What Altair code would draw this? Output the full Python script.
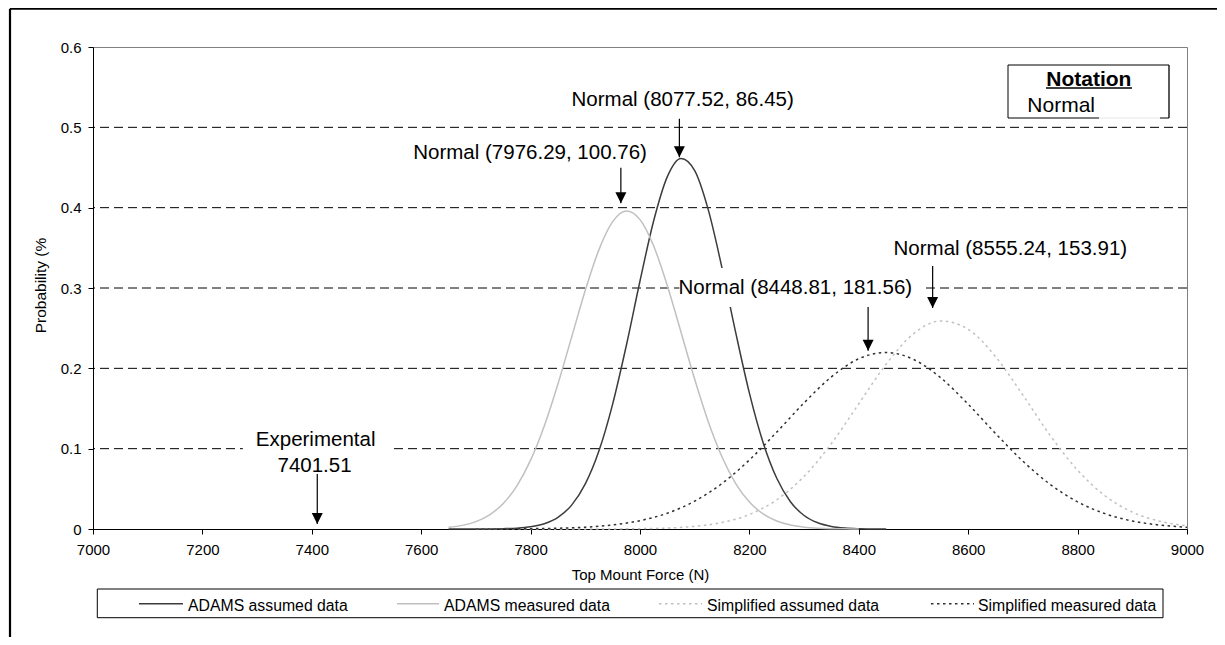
import altair as alt
import pandas as pd

# ---------------- data ----------------
adams_assumed_x = [7650, 7675, 7700, 7725, 7750, 7775, 7800, 7825, 7850, 7875, 7900,
                   7925, 7950, 7975, 8000, 8025, 8050, 8075, 8100, 8125, 8150, 8175,
                   8200, 8225, 8250, 8275, 8300, 8325, 8350, 8375, 8400, 8425, 8450]
adams_assumed_y = [0.0000, 0.0000, 0.0000, 0.0001, 0.0004, 0.0010, 0.0027, 0.0065, 0.0145,
                   0.0297, 0.0561, 0.0973, 0.1555, 0.2284, 0.3087, 0.3837, 0.4387, 0.4613,
                   0.4462, 0.3969, 0.3247, 0.2444, 0.1691, 0.1077, 0.0631, 0.0340, 0.0168,
                   0.0077, 0.0032, 0.0012, 0.0004, 0.0001, 0.0000]

adams_measured_x = [7650, 7675, 7700, 7725, 7750, 7775, 7800, 7825, 7850, 7875, 7900,
                    7925, 7950, 7975, 8000, 8025, 8050, 8075, 8100, 8125, 8150, 8175,
                    8200, 8225, 8250, 8275, 8300, 8325, 8350, 8375, 8400]
adams_measured_y = [0.0021, 0.0045, 0.0092, 0.0177, 0.0318, 0.0538, 0.0857, 0.1282, 0.1805,
                    0.2388, 0.2972, 0.3478, 0.3826, 0.3959, 0.3851, 0.3522, 0.3029, 0.2450,
                    0.1863, 0.1332, 0.0896, 0.0566, 0.0337, 0.0188, 0.0099, 0.0049, 0.0023,
                    0.0010, 0.0004, 0.0002, 0.0001]

simplified_x = [7700, 7750, 7800, 7850, 7900, 7950, 8000, 8050, 8100, 8150, 8200, 8250,
                8300, 8350, 8400, 8450, 8500, 8550, 8600, 8650, 8700, 8750, 8800, 8850,
                8900, 8950, 9000]
simplified_assumed_y = [0.0000, 0.0000, 0.0000, 0.0000, 0.0000, 0.0001, 0.0004, 0.0012,
                        0.0033, 0.0081, 0.0181, 0.0363, 0.0655, 0.1065, 0.1559, 0.2052,
                        0.2430, 0.2590, 0.2485, 0.2145, 0.1666, 0.1164, 0.0732, 0.0414,
                        0.0211, 0.0097, 0.0040]
simplified_measured_y = [0.0000, 0.0001, 0.0004, 0.0010, 0.0023, 0.0050, 0.0104, 0.0197,
                         0.0347, 0.0567, 0.0859, 0.1206, 0.1570, 0.1894, 0.2119, 0.2197,
                         0.2111, 0.1881, 0.1553, 0.1189, 0.0844, 0.0555, 0.0338, 0.0191,
                         0.0100, 0.0049, 0.0022]

series_names = ["ADAMS assumed data", "ADAMS measured data",
                "Simplified assumed data", "Simplified measured data"]

x_ticks = [7000, 7200, 7400, 7600, 7800, 8000, 8200, 8400, 8600, 8800, 9000]
y_ticks = [0, 0.1, 0.2, 0.3, 0.4, 0.5, 0.6]
grid_values = [0.1, 0.2, 0.3, 0.4, 0.5]

# annotations (text, anchor position in data units)
ann_text = ["Normal (8077.52, 86.45)", "Normal (7976.29, 100.76)",
            "Normal (8555.24, 153.91)", "Normal (8448.81, 181.56)",
            "Experimental", "7401.51"]
ann_x = [8078, 7799, 8677, 8284, 7407, 7405]
ann_y = [0.5268, 0.4604, 0.3412, 0.2927, 0.1034, 0.0710]

arrow_x = [8072, 7965, 8535, 8417, 7410]
arrow_top = [0.5106, 0.4496, 0.3275, 0.2765, 0.0685]
arrow_tip = [0.4629, 0.4056, 0.2752, 0.2220, 0.0062]

# white text boxes that mask lines behind two labels
box_x1 = [8072, 7274]
box_x2 = [8515, 7547]
box_y1 = [0.2765, 0.0660]
box_y2 = [0.3250, 0.1283]

# ---------------- styling ----------------
FONT = "Liberation Sans"
DARK = "#3c3c3c"
DARKDOT = "#303030"
LIGHT = "#c0c0c0"
DOT = [2.5, 3.5]

xscale = alt.Scale(domain=[7000, 9000], nice=False, zero=False)
yscale = alt.Scale(domain=[0, 0.6], nice=False, zero=True)

x_axis = alt.Axis(values=x_ticks, title="Top Mount Force (N)", grid=False, format="d",
                  tickSize=5, labelPadding=8, labelFlush=False, labelOverlap=False,
                  labelFontSize=15, labelFont=FONT, labelColor="black",
                  tickColor="black", domainColor="black",
                  titleFont=FONT, titleFontSize=15, titleFontWeight="normal",
                  titleColor="black", titleY=50, titleBaseline="alphabetic")
y_axis = alt.Axis(values=y_ticks, title="Probability (%", grid=False,
                  labelExpr="datum.value == 0 ? '0' : format(datum.value, '.1f')",
                  tickSize=5, labelPadding=7, labelFontSize=15, labelFont=FONT,
                  labelColor="black", tickColor="black", domainColor="black",
                  titleFont=FONT, titleFontSize=15.5, titleFontWeight="normal",
                  titleColor="black", titleX=-47.5, titleY=238, titleAngle=270,
                  titleBaseline="alphabetic", titleAlign="center")

XF = alt.X("force:Q", scale=xscale, axis=x_axis)
YF = alt.Y("prob:Q", scale=yscale, axis=y_axis)

one = pd.DataFrame({"k": [0]})


def curve(xs, ys, color, dash=None):
    df = pd.DataFrame({"force": xs, "prob": ys})
    kw = dict(color=color, strokeWidth=1.5, interpolate="monotone")
    if dash:
        kw["strokeDash"] = dash
    return alt.Chart(df).mark_line(**kw).encode(x=XF, y=YF)


def prule(x1, y1, x2, y2, color="black", width=1.0, dash=None):
    kw = dict(color=color, strokeWidth=width)
    if dash:
        kw["strokeDash"] = dash
    return alt.Chart(one).mark_rule(**kw).encode(
        x=alt.value(x1), y=alt.value(y1), x2=alt.value(x2), y2=alt.value(y2))


def ptext(x, y, text, size, align="left", weight="normal"):
    return alt.Chart(one).mark_text(text=text, font=FONT, fontSize=size, align=align,
                                    baseline="alphabetic", fontWeight=weight,
                                    color="black").encode(x=alt.value(x), y=alt.value(y))


# gridlines
grid = alt.Chart(pd.DataFrame({"prob": grid_values})).mark_rule(
    color="black", strokeWidth=1, strokeDash=[9, 5]).encode(y=YF)

c_adams_assumed = curve(adams_assumed_x, adams_assumed_y, DARK)
c_adams_measured = curve(adams_measured_x, adams_measured_y, LIGHT)
c_simp_assumed = curve(simplified_x, simplified_assumed_y, LIGHT, DOT)
c_simp_measured = curve(simplified_x, simplified_measured_y, DARKDOT, DOT)

boxes = alt.Chart(pd.DataFrame({"force": box_x1, "force2": box_x2,
                                "prob": box_y1, "prob2": box_y2})
                  ).mark_rect(fill="white").encode(
    x=XF, x2="force2:Q", y=YF, y2="prob2:Q")

ann = alt.Chart(pd.DataFrame({"t": ann_text, "force": ann_x, "prob": ann_y})).mark_text(
    font=FONT, fontSize=20.5, align="center", baseline="alphabetic", color="black").encode(
    x=XF, y=YF, text="t:N")

arr_df = pd.DataFrame({"force": arrow_x, "prob": arrow_top, "tip": arrow_tip})
arrow_lines = alt.Chart(arr_df).mark_rule(color="black", strokeWidth=1.2).encode(
    x=XF, y=YF, y2="tip:Q")
arrow_heads = alt.Chart(pd.DataFrame({"force": arrow_x, "prob": arrow_tip})).mark_point(
    shape="M-1,-1L1,-1L0,1Z", size=121, filled=True, color="black", opacity=1,
    strokeWidth=0, yOffset=-5.5).encode(x=XF, y=YF)

# Notation box (pixel layout)
notation_bg = alt.Chart(one).mark_rect(fill="white").encode(
    x=alt.value(915), x2=alt.value(1076), y=alt.value(18), y2=alt.value(71))
notation = [
    notation_bg,
    prule(915, 18, 1076, 18),
    prule(915, 18, 915, 71),
    prule(1076, 18, 1076, 71, width=1.3),
    prule(915, 71, 1006, 71),
    prule(1006, 71, 1067, 71, color="#e6e6e6"),
    prule(1067, 71, 1076, 71),
    ptext(995.8, 39, "Notation", 21, align="center", weight="bold"),
    prule(953, 41, 1039, 41, width=1.3),
    ptext(934.3, 64.7, "Normal", 21),
]

# Legend (pixel layout)
legend_box = alt.Chart(one).mark_rect(fill="white", stroke="black", strokeWidth=1).encode(
    x=alt.value(4.3), x2=alt.value(1070), y=alt.value(542), y2=alt.value(570.7))
LY = 556.7
TY = 563.7
leg_lines = [(46, 90, DARK, None), (304, 346, LIGHT, None),
             (566, 609, LIGHT, DOT), (838, 881, DARKDOT, DOT)]
leg_text_x = [95, 351, 614, 885]
legend = [legend_box]
for (a, b, col, dsh), tx, name in zip(leg_lines, leg_text_x, series_names):
    legend.append(prule(a, LY, b, LY, color=col, width=1.5, dash=dsh))
    legend.append(ptext(tx, TY, name, 15.8))

# outer frame
frame = [prule(-83, -38.3, 1140, -38.3, width=2.2),
         prule(-83, -38.3, -83, 600, width=2.2)]

chart = alt.layer(
    grid, c_adams_assumed, c_adams_measured, c_simp_assumed, c_simp_measured,
    boxes, ann, arrow_lines, arrow_heads, *notation, *legend, *frame
).properties(
    width=1094, height=482,
    padding={"left": 85, "top": 39, "right": 30, "bottom": 108},
    autosize=alt.AutoSizeParams(type="none"),
    background="white",
).configure_view(stroke="#808080", strokeWidth=1)

chart.save("out.html", embed_options={"renderer": "svg", "actions": False})
